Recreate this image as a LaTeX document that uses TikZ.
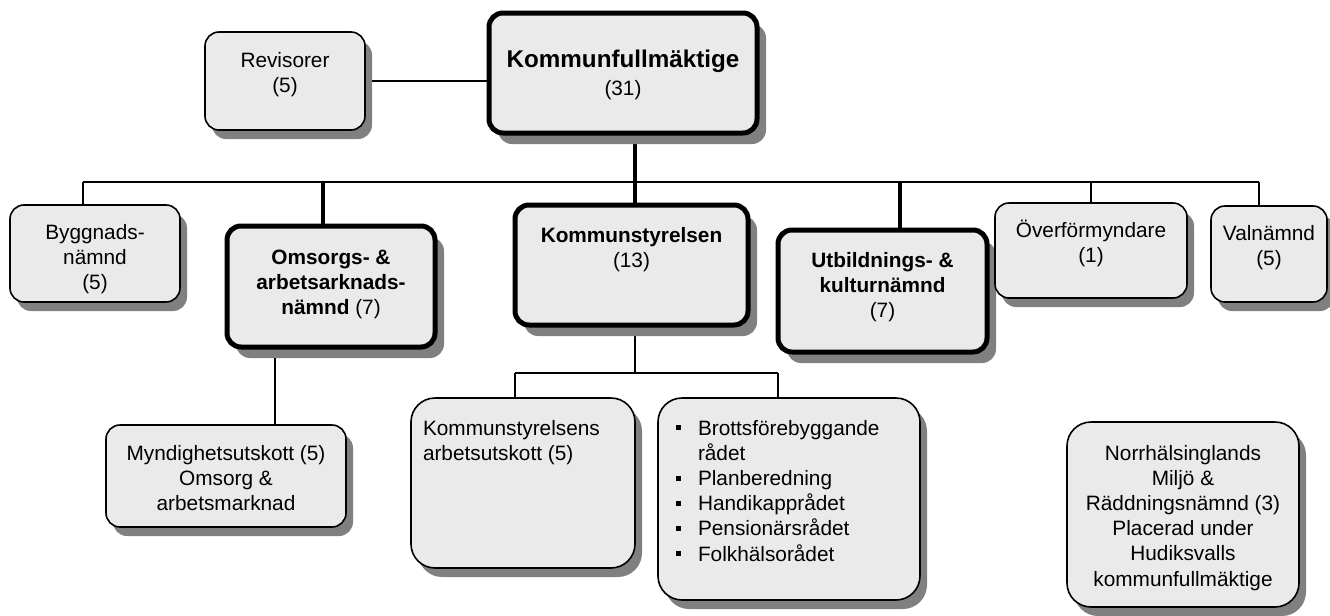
\documentclass[tikz,border=0pt]{standalone}
\usepackage{fontspec}
\setmainfont{Liberation Sans}
\usetikzlibrary{shadows,backgrounds}

\definecolor{boxfill}{HTML}{EAEAEA}
\definecolor{shadowgray}{HTML}{808080}

% text block of a box: width, height, first baseline, lines
\newcommand{\orgtext}[4]{\parbox[c][#2][t]{#1}{\centering\rule{0pt}{#3}#4}}
\newcommand{\orgitem}[1]{\par\hangindent=20pt\hangafter=1\hspace*{9pt}\makebox[11pt][l]{\rule[2.3pt]{2.6pt}{2.6pt}}#1}

\tikzset{
  boxbase/.style={draw, fill=boxfill, rounded corners=7pt, inner sep=0pt,
    font=\fontsize{10.4}{12.6}\selectfont},
  orgbox/.style={boxbase, line width=0.8pt,
    drop shadow={shadow xshift=3.5pt, shadow yshift=-4.5pt, fill=shadowgray, opacity=1}},
  keybox/.style={boxbase, line width=2.5pt,
    drop shadow={shadow xshift=4.5pt, shadow yshift=-5.5pt, fill=shadowgray, opacity=1}},
  bigbox/.style={orgbox, rounded corners=12pt},
  conn/.style={line width=0.8pt},
  keyconn/.style={line width=2pt}
}

\begin{document}
\begin{tikzpicture}[x=0.5pt, y=-0.5pt]
\useasboundingbox (0,0) rectangle (1330,616);

% top level
\node[orgbox] (rev) at (285,81) {\orgtext{80pt}{49pt}{17.5pt}{Revisorer\\(5)}};
\node[keybox] (kf) at (623,73) {\orgtext{134pt}{60pt}{27pt}{{\fontsize{12.1}{14}\selectfont\bfseries Kommunfullm\"aktige}\\[1.4pt](31)}};

% second level
\node[orgbox] (byg) at (95,253.5) {\orgtext{85pt}{48.5pt}{17pt}{Byggnads-\\n\"amnd\\(5)}};
\node[keybox] (oms) at (331,286.5) {\orgtext{104pt}{60.5pt}{19pt}{\textbf{Omsorgs- \&}\\\textbf{arbetsarknads-}\\\textbf{n\"amnd} (7)}};
\node[keybox] (ks) at (631.5,265) {\orgtext{116.5pt}{60pt}{18.5pt}{\textbf{Kommunstyrelsen}\\(13)}};
\node[keybox] (utb) at (882.5,291) {\orgtext{104.5pt}{61pt}{18.5pt}{\textbf{Utbildnings- \&}\\\textbf{kulturn\"amnd}\\(7)}};
\node[orgbox] (over) at (1091,250.5) {\orgtext{96pt}{47.5pt}{17pt}{\"Overf\"ormyndare\\(1)}};
\node[orgbox] (val) at (1269,254) {\orgtext{58pt}{48pt}{17pt}{Valn\"amnd\\(5)}};

% third level
\node[orgbox] (myn) at (226,476) {\orgtext{120pt}{51pt}{17.5pt}{Myndighetsutskott (5)\\Omsorg \&\\arbetsmarknad}};
\node[bigbox] (ksau) at (523,483) {\parbox[c][85pt][t]{112pt}{\raggedright\leftskip=6pt\rule{0pt}{18.5pt}Kommunstyrelsens\\arbetsutskott (5)}};
\node[bigbox] (rad) at (789,499) {\parbox[c][101pt][t]{131pt}{\raggedright
  \orgitem{\rule{0pt}{18.5pt}Brottsf\"orebyggande\newline r\aa det}
  \orgitem{Planberedning}
  \orgitem{Handikappr\aa det}
  \orgitem{Pension\"arsr\aa det}
  \orgitem{Folkh\"alsor\aa det}}};
\node[bigbox] (norr) at (1183,514.5) {\orgtext{116pt}{92.5pt}{19pt}{Norrh\"alsinglands\\Milj\"o \&\\R\"addningsn\"amnd (3)\\Placerad under\\Hudiksvalls\\kommunfullm\"aktige}};

\begin{scope}[on background layer]
\coordinate (jbyg) at (83,182);
\coordinate (joms) at (323,182);
\coordinate (jks) at (635,182);
\coordinate (jutb) at (900,182);
\coordinate (jover) at (1091,182);
\coordinate (jval) at (1259,182);
\coordinate (jmyn) at (275,400);
\coordinate (jsub) at (635,373);
\coordinate (jau) at (515,373);
\coordinate (jrad) at (778,373);

\draw[conn] (rev.east) -- (rev.east -| kf.west);
\draw[keyconn] (kf.south -| jks) -- (ks.north -| jks);
\draw[conn] (jbyg) -- (jval);
\draw[conn] (jbyg) -- (jbyg |- byg.north);
\draw[keyconn] (joms) -- (joms |- oms.north);
\draw[keyconn] (jutb) -- (jutb |- utb.north);
\draw[conn] (jover) -- (jover |- over.north);
\draw[conn] (jval) -- (jval |- val.north);
\draw[conn] (oms.south -| jmyn) -- (myn.north -| jmyn);
\draw[conn] (ks.south -| jsub) -- (jsub);
\draw[conn] (jau) -- (jrad);
\draw[conn] (jau) -- (jau |- ksau.north);
\draw[conn] (jrad) -- (jrad |- rad.north);
\end{scope}
\end{tikzpicture}
\end{document}
